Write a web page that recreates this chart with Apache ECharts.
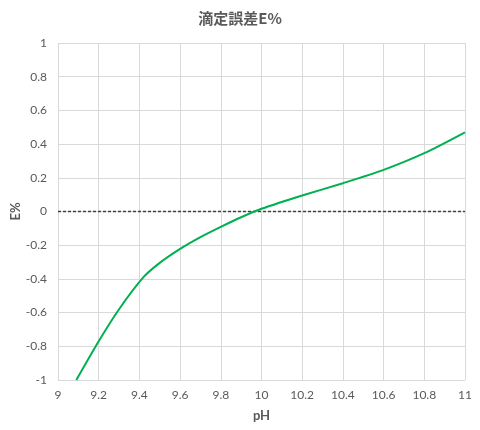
<!DOCTYPE html>
<html><head><meta charset="utf-8">
<script src="https://cdn.jsdelivr.net/npm/echarts@6/dist/echarts.min.js"></script>
<style>html,body{margin:0;padding:0;background:#fff}#c{width:480px;height:430px}</style>
</head><body><div id="c"></div>
<script>
const pH = [9.09, 9.2, 9.3, 9.42, 9.5, 9.6, 9.7, 9.8, 9.9, 10.0, 10.2, 10.4, 10.6, 10.8, 11.0];
const E  = [-1.0, -0.77, -0.58, -0.39, -0.305, -0.222, -0.152, -0.091, -0.034, 0.016, 0.095, 0.168, 0.247, 0.346, 0.47];
const zeroX = [9, 11];
const zeroY = [0, 0];
const xTicks = [9, 9.2, 9.4, 9.6, 9.8, 10, 10.2, 10.4, 10.6, 10.8, 11];
const yTicks = [-1, -0.8, -0.6, -0.4, -0.2, 0, 0.2, 0.4, 0.6, 0.8, 1];

const chart = echarts.init(document.getElementById('c'), null, {renderer: 'canvas'});
const lab = {color: '#595959', fontSize: 12, fontFamily: 'Lato, "Noto Sans", sans-serif'};
chart.setOption({
  animation: false,
  title: {text: '滴定誤差E%', left: 'center', top: 6,
    textStyle: {color: '#595959', fontSize: 15, fontWeight: 'bold', fontFamily: '"Noto Sans CJK JP", sans-serif'}},
  grid: {left: 58, right: 15, top: 43, bottom: 50, containLabel: false, outerBoundsMode: 'none'},
  xAxis: {type: 'value', min: 9, max: 11, interval: 0.2,
    name: 'pH', nameLocation: 'middle', nameGap: 29, nameMoveOverlap: false,
    nameTextStyle: {color: '#595959', fontSize: 13, fontWeight: 'bold', fontFamily: 'Lato, sans-serif'},
    axisLine: {show: false}, axisTick: {show: false},
    axisLabel: Object.assign({margin: 9, formatter: v => String(+v.toFixed(1))}, lab),
    splitLine: {show: true, lineStyle: {color: '#d9d9d9', width: 1}}},
  yAxis: {type: 'value', min: -1, max: 1, interval: 0.2,
    name: 'E%', nameLocation: 'middle', nameGap: 36, nameRotate: 90, nameMoveOverlap: false,
    nameTextStyle: {color: '#595959', fontSize: 13, fontWeight: 'bold', fontFamily: 'Lato, sans-serif'},
    axisLine: {show: false}, axisTick: {show: false},
    axisLabel: Object.assign({margin: 11, formatter: v => String(+v.toFixed(1))}, lab),
    splitLine: {show: true, lineStyle: {color: '#d9d9d9', width: 1}}},
  series: [
    {type: 'line', data: zeroX.map((x, i) => [x, zeroY[i]]), symbol: 'none',
      lineStyle: {color: '#404040', width: 1.3, type: [3, 2]}, silent: true, z: 2},
    {type: 'line', data: pH.map((x, i) => [x, E[i]]), symbol: 'none', smooth: 0.25,
      lineStyle: {color: '#00b050', width: 2}, z: 3}
  ]
});
</script></body></html>
